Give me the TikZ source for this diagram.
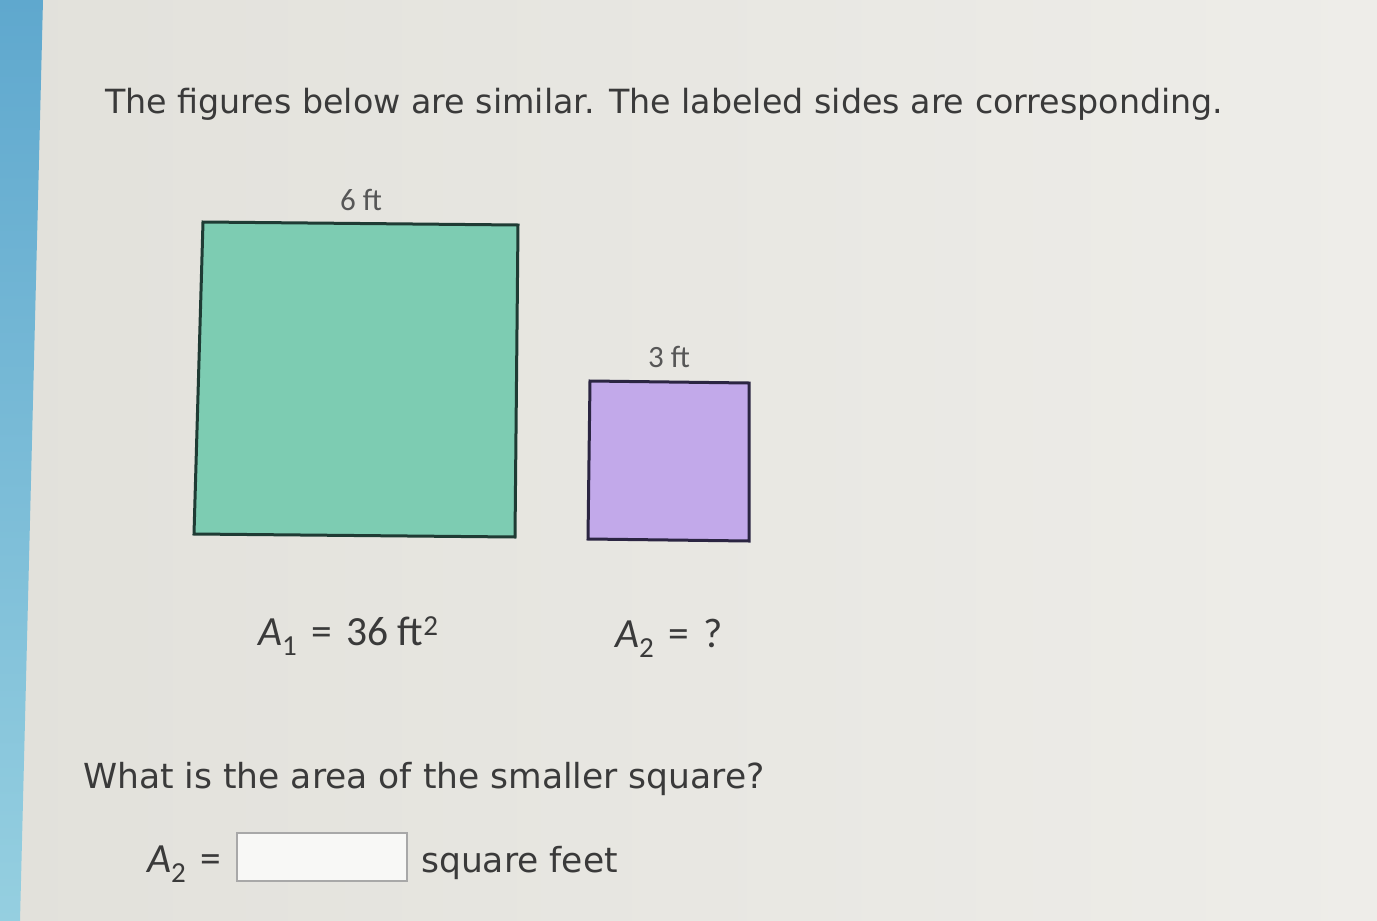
\documentclass[tikz,border=0pt]{standalone}
\usepackage{fontspec}
\setmainfont{DejaVu Sans}
\newfontfamily\labfont{Carlito}
\newcommand{\eqsp}{\hspace{0.34em}=\hspace{0.34em}}
\begin{document}
\begin{tikzpicture}[x=1pt,y=-1pt,
  txt/.style={text=textgray,inner sep=0pt,anchor=base west,font=\fontsize{34.5}{40}\selectfont},
  lab/.style={text=textgray!85,inner sep=0pt,anchor=base,font=\labfont\fontsize{31}{36}\selectfont},
  formula/.style={text=textgray,inner sep=0pt,anchor=base west,font=\labfont\fontsize{41.5}{46}\selectfont},
  shapeline/.style={line width=3pt,line join=miter}]
\definecolor{textgray}{HTML}{3A3A3A}
\definecolor{bgl}{HTML}{E2E1DB}
\definecolor{bgr}{HTML}{EEEDE9}
\definecolor{stripT}{HTML}{5FA8CE}
\definecolor{stripB}{HTML}{95CFE0}
\definecolor{greenfill}{HTML}{7DCCB2}
\definecolor{greenline}{HTML}{1F3B34}
\definecolor{purplefill}{HTML}{C2A9EA}
\definecolor{purpleline}{HTML}{2B2542}
\definecolor{boxline}{HTML}{A8A8A8}
\useasboundingbox (0,0) rectangle (1377,921);
\shade[left color=bgl,right color=bgr] (0,0) rectangle (1377,921);
\shade[top color=stripT,bottom color=stripB] (0,0) -- (43,0) -- (20,921) -- (0,921) -- cycle;
% title
\node[txt,font=\fontsize{33.3}{40}\selectfont] (title) at (105,113) {The figures below are similar. The labeled sides are corresponding.};
% big square
\coordinate (g1) at (203,222);
\coordinate (g2) at (518,225);
\coordinate (g3) at (515,537);
\coordinate (g4) at (194,534);
\draw[shapeline,fill=greenfill,draw=greenline] (g1) -- (g2) -- (g3) -- (g4) -- cycle;
\node[lab] (sixft) at (361,210) {6 ft};
% small square
\coordinate (p1) at (590,381);
\coordinate (p2) at (749,383);
\coordinate (p3) at (749,541);
\coordinate (p4) at (588,539);
\draw[shapeline,fill=purplefill,draw=purpleline] (p1) -- (p2) -- (p3) -- (p4) -- cycle;
\node[lab] (threeft) at (669,367) {3 ft};
% areas
\node[formula] (aone) at (258,645) {{\itshape A}\textsubscript{1}\eqsp 36 ft\textsuperscript{2}};
\node[formula] (atwo) at (615,647) {{\itshape A}\textsubscript{2}\eqsp ?};
% question
\node[txt] (question) at (83,788) {What is the area of the smaller square?};
\node[formula] (ans) at (147,872) {{\itshape A}\textsubscript{2}\eqsp};
\node[draw=boxline,line width=1.5pt,fill=white!60!bgr,minimum width=170pt,minimum height=48pt,inner sep=0pt] (box) at (322,857) {};
\node[txt] (unit) at (421,872) {square feet};
\end{tikzpicture}
\end{document}
